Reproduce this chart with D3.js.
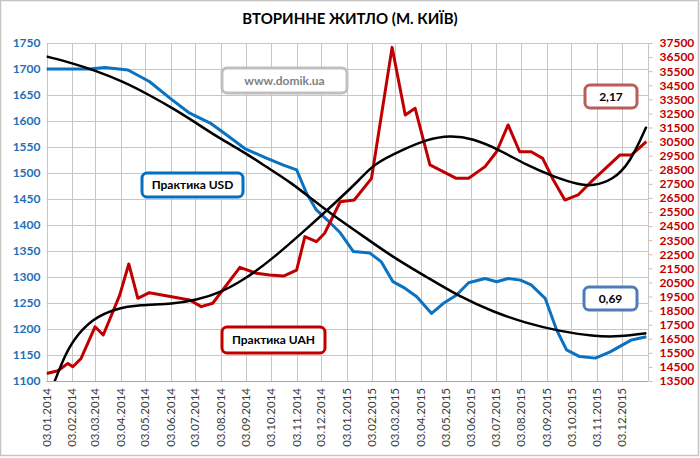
<!DOCTYPE html>
<html><head><meta charset="utf-8">
<script src="https://cdn.jsdelivr.net/npm/d3@7"></script>
<style>
html,body{margin:0;padding:0;background:#fff;}
svg{display:block;font-family:Lato,"Open Sans",sans-serif;}
</style></head>
<body>
<svg id="chart" width="700" height="458"></svg>
<script>
// ---------- DATA ----------
const title = "ВТОРИННЕ ЖИТЛО (М. КИЇВ)";
const monthTicks = ["2014-01-03","2014-02-03","2014-03-03","2014-04-03","2014-05-03","2014-06-03","2014-07-03","2014-08-03","2014-09-03","2014-10-03","2014-11-03","2014-12-03","2015-01-03","2015-02-03","2015-03-03","2015-04-03","2015-05-03","2015-06-03","2015-07-03","2015-08-03","2015-09-03","2015-10-03","2015-11-03","2015-12-03"];
const usdTicks = [1100,1150,1200,1250,1300,1350,1400,1450,1500,1550,1600,1650,1700,1750];
const uahTicks = [13500,14500,15500,16500,17500,18500,19500,20500,21500,22500,23500,24500,25500,26500,27500,28500,29500,30500,31500,32500,33500,34500,35500,36500,37500];

const usdDates = ["2014-01-03","2014-02-24","2014-03-15","2014-04-12","2014-05-08","2014-06-02","2014-06-26","2014-07-21","2014-08-10","2014-09-01","2014-09-28","2014-10-18","2014-11-03","2014-11-15","2014-11-27","2014-12-10","2014-12-26","2015-01-11","2015-01-31","2015-02-14","2015-02-28","2015-03-15","2015-03-29","2015-04-16","2015-04-30","2015-05-16","2015-05-31","2015-06-20","2015-07-04","2015-07-18","2015-08-02","2015-08-15","2015-09-01","2015-09-15","2015-09-27","2015-10-13","2015-11-01","2015-11-19","2015-12-15","2016-01-02"];
const usdValues = [1700,1700,1703,1698,1676,1644,1615,1596,1573,1547,1528,1515,1506,1461,1429,1410,1385,1349,1346,1329,1291,1278,1262,1230,1249,1265,1289,1297,1291,1297,1294,1285,1259,1198,1160,1147,1144,1156,1179,1185];

const uahDates = ["2014-01-03","2014-01-17","2014-01-29","2014-02-04","2014-02-14","2014-03-03","2014-03-13","2014-04-02","2014-04-13","2014-04-24","2014-05-08","2014-06-26","2014-07-10","2014-07-24","2014-08-26","2014-09-15","2014-10-01","2014-10-18","2014-11-03","2014-11-13","2014-11-27","2014-12-07","2014-12-26","2015-01-12","2015-02-02","2015-02-27","2015-03-15","2015-03-27","2015-04-14","2015-05-16","2015-05-31","2015-06-20","2015-07-04","2015-07-18","2015-08-01","2015-08-15","2015-08-29","2015-09-11","2015-09-25","2015-10-11","2015-10-29","2015-12-01","2015-12-15","2016-01-02"];
const uahValues = [14030,14230,14750,14510,15100,17350,16770,19600,21810,19370,19770,19250,18780,19020,21570,21150,21030,20950,21380,23750,23390,23990,26230,26350,27890,37190,32390,32860,28840,27890,27890,28720,29780,31680,29780,29780,29310,27770,26350,26710,27770,29550,29550,30490];

const usdTrendDates = ["2014-01-03","2014-02-04","2014-03-03","2014-04-06","2014-05-08","2014-06-06","2014-07-04","2014-08-01","2014-08-30","2014-09-27","2014-10-26","2014-11-23","2014-12-17","2015-01-19","2015-02-28","2015-04-10","2015-05-20","2015-06-30","2015-08-09","2015-09-18","2015-10-29","2015-12-01","2016-01-02"];
const usdTrendValues = [1724,1711,1697,1676,1650,1624,1596,1567,1541,1512,1483,1448,1419,1383,1338,1300,1262,1233,1211,1196,1186,1185,1192];

const uahTrendDates = ["2014-01-03","2014-01-13","2014-01-23","2014-02-04","2014-02-28","2014-03-29","2014-04-26","2014-06-06","2014-07-04","2014-08-01","2014-09-03","2014-10-05","2014-11-15","2014-12-17","2015-01-19","2015-02-04","2015-03-13","2015-04-10","2015-05-08","2015-06-05","2015-07-08","2015-08-09","2015-09-11","2015-10-13","2015-10-29","2015-11-22","2015-12-13","2016-01-02"];
const uahTrendValues = [11900,13520,14990,16410,17950,18660,18900,18970,19250,19730,20790,22200,24300,26000,27800,28900,29950,30650,30950,30730,29900,28840,28010,27420,27350,27770,28960,31560];

const notes = [
  {text:"www.domik.ua", color:"#7f7f7f", border:"#bfbfbf"},
  {text:"Практика USD", color:"#000", border:"#0070c0"},
  {text:"Практика UAH", color:"#000", border:"#c00000"},
  {text:"2,17", color:"#000", border:"#b95c5a"},
  {text:"0,69", color:"#000", border:"#4f7bb8"}
];
// layout boxes for the notes (pixels)
const noteBoxes = [[222,68,125,25],[142,173,101,24],[222,327,103,26],[585,85,52,23],[584,287,53,23]];

// ---------- CHART ----------
const svg = d3.select("#chart");
const W = 700, H = 458;
const L = 46.5, R = 648, T = 43, B = 381;
const parse = d3.utcParse("%Y-%m-%d");
const fmt = d3.utcFormat("%d.%m.%Y");

const x = d3.scaleUtc().domain([parse("2014-01-03"), parse("2016-01-04")]).range([L, R]);
const yL = d3.scaleLinear().domain([1100,1750]).range([B, T]);
const yR = d3.scaleLinear().domain([13500,37500]).range([B, T]);

// outer frame
svg.append("rect").attr("x",0.5).attr("y",0.5).attr("width",W-2).attr("height",H-3)
  .attr("fill","#fff").attr("stroke","#c4c4c4").attr("stroke-width",1.5);

// title
svg.append("text").attr("x",350).attr("y",24).attr("text-anchor","middle")
  .attr("font-size",15).attr("font-weight","bold").attr("fill","#000").text(title);

// horizontal gridlines
svg.append("g").selectAll("line").data(usdTicks).join("line")
  .attr("x1",L).attr("x2",R).attr("y1",d=>Math.round(yL(d))+0.5).attr("y2",d=>Math.round(yL(d))+0.5)
  .attr("stroke","#c6c6c6").attr("stroke-width",1);
// vertical gridlines
const tickDates = monthTicks.map(parse);
svg.append("g").selectAll("line").data(tickDates).join("line")
  .attr("x1",d=>Math.round(x(d))+0.5).attr("x2",d=>Math.round(x(d))+0.5).attr("y1",T).attr("y2",B)
  .attr("stroke","#c6c6c6").attr("stroke-width",1);
// right edge
svg.append("line").attr("x1",Math.round(R)+0.5).attr("x2",Math.round(R)+0.5).attr("y1",T).attr("y2",B)
  .attr("stroke","#c6c6c6");
// bottom axis line
svg.append("line").attr("x1",L).attr("x2",R).attr("y1",Math.round(B)+0.5).attr("y2",Math.round(B)+0.5)
  .attr("stroke","#a6a6a6");

// left axis
const gL = svg.append("g").attr("transform",`translate(${L},0)`)
  .call(d3.axisLeft(yL).tickValues(usdTicks).tickSize(0).tickPadding(6).tickFormat(d3.format("d")));
gL.select(".domain").remove();
gL.selectAll("text").attr("font-family","Lato,sans-serif").attr("font-size",12).attr("font-weight","bold").attr("fill","#2170b8");

// right axis
const gR = svg.append("g").attr("transform",`translate(${Math.round(R)+0.5},0)`)
  .call(d3.axisRight(yR).tickValues(uahTicks).tickSize(4).tickPadding(7).tickFormat(d3.format("d")));
gR.select(".domain").remove();
gR.selectAll(".tick line").attr("stroke","#e8b4a0");
gR.selectAll("text").attr("font-family","Lato,sans-serif").attr("font-size",12).attr("font-weight","bold").attr("fill","#c00000");

// bottom axis labels
const gX = svg.append("g");
gX.selectAll("text").data(tickDates).join("text")
  .attr("transform",d=>`translate(${x(d)},388) rotate(-90)`)
  .attr("dy","0.35em").attr("text-anchor","end")
  .attr("font-size",11.5).attr("fill","#3a3a3a").text(d=>fmt(d));

// clip
svg.append("clipPath").attr("id","clip").append("rect").attr("x",L).attr("y",T-6).attr("width",R-L+2).attr("height",B-T+6);
const plot = svg.append("g").attr("clip-path","url(#clip)");

const mk = (dates, vals) => dates.map((d,i)=>({d:parse(d), v:vals[i]}));
const usd = mk(usdDates, usdValues), uah = mk(uahDates, uahValues);
const usdT = mk(usdTrendDates, usdTrendValues), uahT = mk(uahTrendDates, uahTrendValues);

const lineL = d3.line().x(d=>x(d.d)).y(d=>yL(d.v));
const lineR = d3.line().x(d=>x(d.d)).y(d=>yR(d.v));
const curveL = d3.line().x(d=>x(d.d)).y(d=>yL(d.v)).curve(d3.curveBasis);
const curveR = d3.line().x(d=>x(d.d)).y(d=>yR(d.v)).curve(d3.curveBasis);

plot.append("path").datum(usd).attr("d",lineL).attr("fill","none").attr("stroke","#0a72c0").attr("stroke-width",3).attr("stroke-linejoin","round");
plot.append("path").datum(uah).attr("d",lineR).attr("fill","none").attr("stroke","#c00000").attr("stroke-width",3).attr("stroke-linejoin","round");
plot.append("path").datum(usdT).attr("d",curveL).attr("fill","none").attr("stroke","#000").attr("stroke-width",2.5);
plot.append("path").datum(uahT).attr("d",curveR).attr("fill","none").attr("stroke","#000").attr("stroke-width",2.5);

// notes
const gN = svg.append("g");
notes.forEach((n,i)=>{
  const [bx,by,bw,bh] = noteBoxes[i];
  gN.append("rect").attr("x",bx).attr("y",by).attr("width",bw).attr("height",bh).attr("rx",5)
    .attr("fill","#fff").attr("stroke",n.border).attr("stroke-width",3);
  gN.append("text").attr("x",bx+bw/2).attr("y",by+bh/2).attr("dy","0.35em").attr("text-anchor","middle")
    .attr("font-size",12).attr("font-weight","bold").attr("fill",n.color).text(n.text);
});
</script>
</body></html>
